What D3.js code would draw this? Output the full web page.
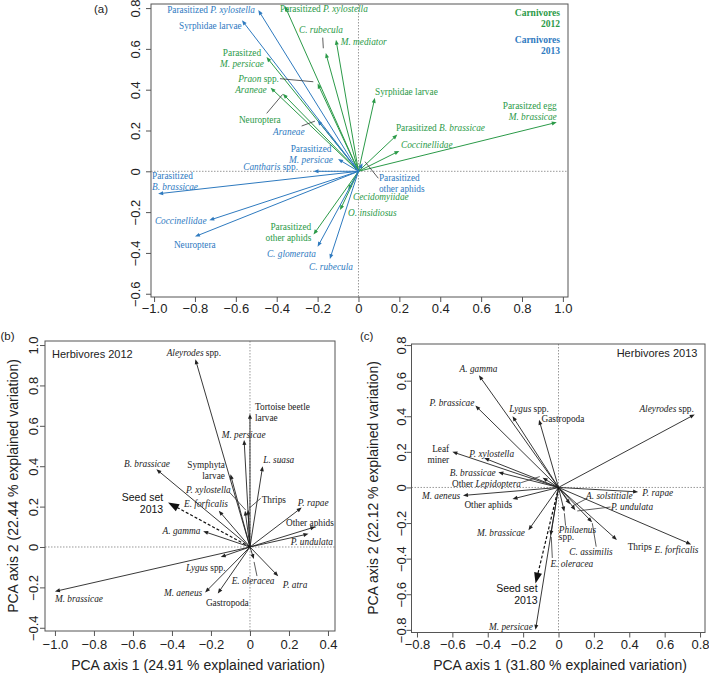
<!DOCTYPE html>
<html><head><meta charset="utf-8">
<script src="https://cdn.jsdelivr.net/npm/d3@7"></script>
<style>body{margin:0;background:#fff}</style>
</head><body>
<svg id="chart" width="709" height="678"></svg>
<script>
// ================= DATA =================
// Panel (a) Carnivores 2012 (green)
const carn2012Labels = ["Parasitized *P. xylostella*", "*C. rubecula*", "*M. mediator*", "Parasitzed|*M. persicae*", "*Praon* spp.", "*Araneae*", "Neuroptera", "Syrphidae larvae", "Parasitized *B. brassicae*", "*Coccinellidae*", "Parasitzed egg|*M. brassicae*", "*Cecidomyiidae*", "*O. insidiosus*", "Parasitized|other aphids"];
const carn2012Axis1 = [-0.36, -0.16, -0.11, -0.45, -0.20, -0.43, -0.37, 0.08, 0.19, 0.20, 0.97, -0.05, -0.09, -0.22];
const carn2012Axis2 = [0.81, 0.58, 0.645, 0.56, 0.43, 0.41, 0.38, 0.36, 0.18, 0.10, 0.24, -0.09, -0.19, -0.31];
const carn2012LabelAt = [[-0.384,0.78,"start"],[-0.291,0.678,"start"],[-0.087,0.619,"start"],[-0.57,0.565,"middle"],[-0.389,0.438,"end"],[-0.449,0.384,"end"],[-0.585,0.237,"start"],[0.081,0.374,"start"],[0.183,0.197,"start"],[0.208,0.114,"start"],[0.97,0.305,"end"],[-0.027,-0.141,"start"],[-0.051,-0.219,"start"],[-0.231,-0.288,"end"]];

// Panel (a) Carnivores 2013 (blue)
const carn2013Labels = ["Parasitized *P. xylostella*", "Syrphidae larvae", "*Araneae*", "Parasitized|*M. persicae*", "*Cantharis* spp.", "Parasitized|*B. brassicae*", "*Coccinellidae*", "Neuroptera", "*C. glomerata*", "*C. rubecula*", "Parasitized|other aphids"];
const carn2013Axis1 = [-0.49, -0.57, -0.20, -0.10, -0.22, -0.98, -0.73, -0.80, -0.20, -0.14, 0.02];
const carn2013Axis2 = [0.79, 0.74, 0.25, 0.06, 0.0, -0.11, -0.24, -0.32, -0.37, -0.43, 0.04];
const carn2013LabelAt = [[-0.506,0.776,"end"],[-0.571,0.698,"end"],[-0.418,0.178,"start"],[-0.232,0.094,"middle"],[-0.296,0.006,"end"],[-1.01,-0.038,"start"],[-0.996,-0.258,"start"],[-0.903,-0.376,"start"],[-0.448,-0.42,"start"],[-0.242,-0.484,"start"],[0.10,-0.048,"start"]];
const carnLeaders = [[-0.175,0.655,-0.172,0.603],[-0.384,0.454,-0.221,0.439],[-0.449,0.284,-0.371,0.377],[-0.278,0.222,-0.213,0.246],[0.032,0.047,0.097,-0.034]];
const carnLegend = [["Carnivores|2012", 0.986, 0.761], ["Carnivores|2013", 0.986, 0.629]];

// Panel (b) Herbivores 2012
const herb2012Labels = ["*Aleyrodes* spp.", "Tortoise beetle|larvae", "*M. persicae*", "*L. suasa*", "Symphyta|larvae", "*B. brassicae*", "*P. xylostella*", "Thrips", "*E. forficalis*", "*A. gamma*", "*P. rapae*", "Other aphids", "*P. undulata*", "*Lygus* spp.", "*M. brassicae*", "*M. aeneus*", "Gastropoda", "*E. oleracea*", "*P. atra*"];
const herb2012Axis1 = [-0.28, 0.0, -0.03, 0.065, -0.10, -0.48, -0.025, -0.01, -0.16, -0.24, 0.265, 0.335, 0.30, -0.15, -1.0, -0.23, -0.165, 0.02, 0.145];
const herb2012Axis2 = [0.93, 0.66, 0.53, 0.40, 0.36, 0.385, 0.18, 0.185, 0.18, 0.078, 0.195, 0.10, 0.065, -0.05, -0.22, -0.225, -0.23, -0.06, -0.145];
const herb2012LabelAt = [[-0.427,0.946,"start"],[0.026,0.678,"start"],[-0.145,0.542,"start"],[0.068,0.416,"start"],[-0.128,0.389,"end"],[-0.646,0.396,"start"],[-0.328,0.269,"start"],[0.06,0.22,"start"],[-0.338,0.2,"start"],[-0.448,0.064,"start"],[0.245,0.205,"start"],[0.185,0.106,"start"],[0.209,0.012,"start"],[-0.328,-0.117,"start"],[-1.0,-0.272,"start"],[-0.441,-0.243,"start"],[-0.226,-0.292,"start"],[-0.094,-0.183,"start"],[0.168,-0.203,"start"]];
const seed2012 = {label: "Seed set|2013", axis1: -0.42, axis2: 0.22, at: [-0.445, 0.228, "end"]};
const herb2012Leaders = [[-0.103,0.269,-0.022,0.183],[0.055,0.241,-0.004,0.192],[0.036,-0.144,0.021,-0.074]];

// Panel (c) Herbivores 2013
const herb2013Labels = ["*A. gamma*", "*P. brassicae*", "*Lygus* spp.", "Gastropoda", "*Aleyrodes* spp.", "Leaf|miner", "*P. xylostella*", "*B. brassicae*", "Other *Lepidoptera*", "*M. aeneus*", "Other aphids", "*P. rapae*", "*A. solstitiale*", "*P. undulata*", "*Philaenus*|spp.", "*C. assimilis*", "Thrips", "*E. forficalis*", "*M. brassicae*", "*E. oleracea*", "*M. persicae*"];
const herb2013Axis1 = [-0.45, -0.47, -0.26, -0.11, 0.77, -0.60, -0.42, -0.34, -0.09, -0.54, -0.26, 0.45, 0.065, 0.095, 0.033, 0.19, 0.33, 0.75, -0.17, -0.045, -0.13];
const herb2013Axis2 = [0.63, 0.46, 0.40, 0.38, 0.41, 0.20, 0.165, 0.085, 0.055, -0.045, -0.065, -0.025, -0.095, -0.128, -0.136, -0.195, -0.295, -0.32, -0.24, -0.27, -0.80];
const herb2013LabelAt = [[-0.559,0.649,"start"],[-0.729,0.458,"start"],[-0.278,0.424,"start"],[-0.096,0.368,"start"],[0.765,0.424,"end"],[-0.618,0.201,"end"],[-0.504,0.173,"start"],[-0.615,0.065,"start"],[-0.602,0.003,"start"],[-0.772,-0.065,"start"],[-0.532,-0.115,"start"],[0.474,-0.048,"start"],[0.156,-0.067,"start"],[0.296,-0.126,"start"],[0.002,-0.256,"start"],[0.061,-0.379,"start"],[0.391,-0.351,"start"],[0.543,-0.368,"start"],[-0.461,-0.272,"start"],[-0.046,-0.447,"start"],[-0.393,-0.80,"start"]];
const seed2013 = {label: "Seed set|2013", axis1: -0.13, axis2: -0.54, at: [-0.118, -0.587, "end"]};
const herb2013Leaders = [[-0.211,0.027,-0.106,0.061],[0.163,-0.061,0.079,-0.104],[0.294,-0.11,0.106,-0.132],[0.04,-0.215,0.033,-0.145],[0.213,-0.333,0.191,-0.201],[-0.035,-0.396,-0.041,-0.278]];

// Tick values
const ticksA_x = [-1.0,-0.8,-0.6,-0.4,-0.2,0,0.2,0.4,0.6,0.8,1.0];
const ticksA_y = [-0.6,-0.4,-0.2,0,0.2,0.4,0.6,0.8];
const ticksB_x = [-1.0,-0.8,-0.6,-0.4,-0.2,0,0.2,0.4];
const ticksB_y = [-0.4,-0.2,0,0.2,0.4,0.6,0.8,1.0];
const ticksC_x = [-0.8,-0.6,-0.4,-0.2,0,0.2,0.4,0.6,0.8];
const ticksC_y = [-0.8,-0.6,-0.4,-0.2,0,0.2,0.4,0.6,0.8];

// ================= RENDER =================
const GREEN = "#2b9a48", BLUE = "#2e7abf";
const SANS = "'Liberation Sans', Arial, sans-serif";
const SERIF = "'Liberation Serif', 'Times New Roman', serif";
const svg = d3.select("#chart");

const fmt = v => v === 0 ? "0" : (v < 0 ? "\u2212" : "") + Math.abs(v).toFixed(1);

function richText(g, str, px, py, anchor, opts) {
  const lh = opts.lh || 11;
  const t = g.append("text").attr("text-anchor", anchor)
    .attr("font-family", opts.family || SERIF).attr("font-size", opts.size || 9.3)
    .attr("fill", opts.color || "#222").attr("font-weight", opts.weight || "normal");
  str.split("|").forEach((line, i) => {
    let first = true;
    line.split("*").forEach((p, j) => {
      if (!p) return;
      const ts = t.append("tspan").text(p).attr("font-style", j % 2 ? "italic" : "normal");
      if (first) { ts.attr("x", px).attr("y", py + i * lh); first = false; }
    });
  });
  return t;
}

function arrow(g, x0, y0, x1, y1, o) {
  const dx = x1 - x0, dy = y1 - y0, len = Math.hypot(dx, dy);
  const ux = dx / len, uy = dy / len;
  const L = o.head || 5, W = o.headW || 2;
  const bx = x1 - ux * L, by = y1 - uy * L;
  g.append("line").attr("x1", x0).attr("y1", y0).attr("x2", bx + ux).attr("y2", by + uy)
    .attr("stroke", o.color).attr("stroke-width", o.width || 1)
    .attr("stroke-dasharray", o.dash || null);
  g.append("path").attr("d", `M${x1},${y1}L${bx - uy * W},${by + ux * W}L${bx + uy * W},${by - ux * W}Z`)
    .attr("fill", o.color).attr("stroke", "none");
}

function panel(cfg) {
  const g = svg.append("g");
  const x = d3.scaleLinear().domain(cfg.xlim).range([cfg.l, cfg.r]);
  const y = d3.scaleLinear().domain(cfg.ylim).range([cfg.b, cfg.t]);
  g.append("line").attr("x1", cfg.l).attr("x2", cfg.r).attr("y1", y(0)).attr("y2", y(0))
    .attr("stroke", "#999").attr("stroke-width", 1).attr("stroke-dasharray", "1.5,1.5");
  g.append("line").attr("y1", cfg.t).attr("y2", cfg.b).attr("x1", x(0)).attr("x2", x(0))
    .attr("stroke", "#999").attr("stroke-width", 1).attr("stroke-dasharray", "1.5,1.5");
  const ax = g.append("g").attr("transform", `translate(0,${cfg.b})`)
    .call(d3.axisBottom(x).tickValues(cfg.xt).tickSize(5).tickFormat(fmt));
  ax.select(".domain").remove();
  ax.selectAll("line").attr("stroke", "#555");
  ax.selectAll("text").attr("y", cfg.xoff).attr("dy", "0.35em").attr("font-size", 13)
    .attr("font-family", SANS).attr("fill", "#222");
  const ay = g.append("g").attr("transform", `translate(${cfg.l},0)`)
    .call(d3.axisLeft(y).tickValues(cfg.yt).tickSize(5).tickFormat(fmt));
  ay.select(".domain").remove();
  ay.selectAll("line").attr("stroke", "#555");
  ay.selectAll("text").attr("x", null).attr("dy", "0.35em").attr("text-anchor", "middle")
    .attr("transform", `translate(${-cfg.yoff},0) rotate(-90)`)
    .attr("font-size", 13).attr("font-family", SANS).attr("fill", "#222");
  g.append("rect").attr("x", cfg.l).attr("y", cfg.t).attr("width", cfg.r - cfg.l).attr("height", cfg.b - cfg.t)
    .attr("fill", "none").attr("stroke", "#555").attr("stroke-width", 1);
  return {g, x, y};
}

function drawSeries(p, labels, a1, a2, at, color, extra) {
  labels.forEach((lab, i) => {
    arrow(p.g, p.x(0), p.y(0), p.x(a1[i]), p.y(a2[i]), {color, width: extra.width || 1});
  });
  labels.forEach((lab, i) => {
    const lh = (extra.lhOverride && extra.lhOverride[lab]) || 11;
    richText(p.g, lab, p.x(at[i][0]), p.y(at[i][1]), at[i][2], {color, lh});
  });
}
function drawLeaders(p, leaders) {
  leaders.forEach(d => p.g.append("line")
    .attr("x1", p.x(d[0])).attr("y1", p.y(d[1])).attr("x2", p.x(d[2])).attr("y2", p.y(d[3]))
    .attr("stroke", "#333").attr("stroke-width", 0.8));
}
function drawSeed(p, s) {
  arrow(p.g, p.x(0), p.y(0), p.x(s.axis1), p.y(s.axis2), {color: "#111", width: 1.2, dash: "3,2", head: 11, headW: 4});
  richText(p.g, s.label, p.x(s.at[0]), p.y(s.at[1]), s.at[2], {family: SANS, size: 10.5, lh: 12.5, color: "#111"});
}

// ---- Panel (a)
const pa = panel({l: 151, r: 568, t: 4, b: 297, xlim: [-1.015, 1.025], ylim: [-0.616, 0.82],
  xt: ticksA_x, yt: ticksA_y, xoff: 11, yoff: 15.5});
drawSeries(pa, carn2012Labels, carn2012Axis1, carn2012Axis2, carn2012LabelAt, GREEN, {});
drawSeries(pa, carn2013Labels, carn2013Axis1, carn2013Axis2, carn2013LabelAt, BLUE, {});
drawLeaders(pa, carnLeaders);
carnLegend.forEach((d, i) => richText(pa.g, d[0], pa.x(d[1]), pa.y(d[2]), "end",
  {color: i === 0 ? GREEN : BLUE, weight: "bold", size: 9.5, lh: 11}));
svg.append("text").attr("x", 94).attr("y", 13).attr("font-family", SANS).attr("font-size", 11.5).attr("fill", "#222").text("(a)");

// ---- Panel (b)
const pb = panel({l: 45, r: 335, t: 341, b: 631, xlim: [-1.051, 0.436], ylim: [-0.416, 1.02],
  xt: ticksB_x, yt: ticksB_y, xoff: 13, yoff: 12});
drawSeries(pb, herb2012Labels, herb2012Axis1, herb2012Axis2, herb2012LabelAt, "#222", {width: 0.9});
drawLeaders(pb, herb2012Leaders);
drawSeed(pb, seed2012);
richText(pb.g, "Herbivores 2012", pb.x(-1.015), pb.y(0.936), "start", {family: SANS, size: 11, color: "#222"});
svg.append("text").attr("x", 0.5).attr("y", 340).attr("font-family", SANS).attr("font-size", 11.5).attr("fill", "#222").text("(b)");
svg.append("text").attr("text-anchor", "middle").attr("transform", "translate(13,486) rotate(-90)")
  .attr("dy", "0.35em").attr("font-family", SANS).attr("font-size", 14).attr("fill", "#222")
  .text("PCA axis 2 (22.44 % explained variation)");
svg.append("text").attr("text-anchor", "middle").attr("x", 198).attr("y", 670)
  .attr("font-family", SANS).attr("font-size", 14).attr("fill", "#222")
  .text("PCA axis 1 (24.91 % explained variation)");

// ---- Panel (c)
const pc = panel({l: 411.5, r: 705, t: 344, b: 632.5, xlim: [-0.831, 0.828], ylim: [-0.815, 0.806],
  xt: ticksC_x, yt: ticksC_y, xoff: 12, yoff: 10});
drawSeries(pc, herb2013Labels, herb2013Axis1, herb2013Axis2, herb2013LabelAt, "#222", {width: 0.9, lhOverride: {"*Philaenus*|spp.": 7}});
drawLeaders(pc, herb2013Leaders);
drawSeed(pc, seed2013);
richText(pc.g, "Herbivores 2013", pc.x(0.785), pc.y(0.733), "end", {family: SANS, size: 11, color: "#222"});
svg.append("text").attr("x", 360).attr("y", 340).attr("font-family", SANS).attr("font-size", 11.5).attr("fill", "#222").text("(c)");
svg.append("text").attr("text-anchor", "middle").attr("transform", "translate(373,488) rotate(-90)")
  .attr("dy", "0.35em").attr("font-family", SANS).attr("font-size", 14).attr("fill", "#222")
  .text("PCA axis 2 (22.12 % explained variation)");
svg.append("text").attr("text-anchor", "middle").attr("x", 560).attr("y", 670)
  .attr("font-family", SANS).attr("font-size", 14).attr("fill", "#222")
  .text("PCA axis 1 (31.80 % explained variation)");
</script>
</body></html>
